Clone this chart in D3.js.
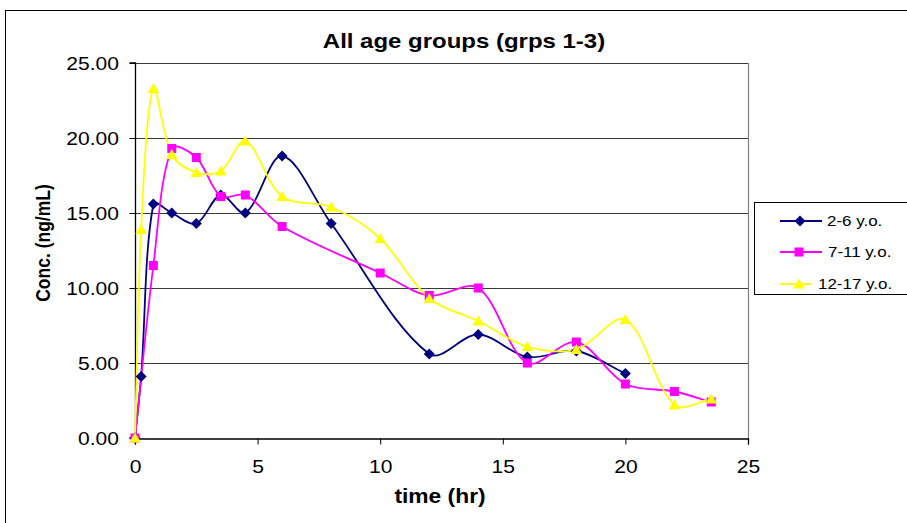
<!DOCTYPE html>
<html>
<head>
<meta charset="utf-8">
<script src="https://cdn.jsdelivr.net/npm/d3@7"></script>
<style>
  html, body { margin: 0; padding: 0; background: #fff; }
  svg { display: block; font-family: "Liberation Sans", Arial, sans-serif; }
</style>
</head>
<body>
<svg id="chart" width="907" height="523"></svg>
<script>
// Plasma concentration vs. time, by age group
const title = "All age groups (grps 1-3)";
const xLabel = "time (hr)";
const yLabel = "Conc. (ng/mL)";

const xTicks = [0, 5, 10, 15, 20, 25];
const yTicks = [0, 5, 10, 15, 20, 25];

const seriesNames = ["2-6 y.o.", "7-11 y.o.", "12-17 y.o."];

const timesA = [0, 0.25, 0.75, 1.5, 2.5, 3.5, 4.5, 6, 8, 12, 14, 16, 18, 20];
const concA  = [0, 4.1, 15.6, 15.0, 14.3, 16.2, 15.0, 18.8, 14.3, 5.6, 6.9, 5.4, 5.8, 4.3];

const timesB = [0, 0.75, 1.5, 2.5, 3.5, 4.5, 6, 10, 12, 14, 16, 18, 20, 22, 23.5];
const concB  = [0, 11.5, 19.3, 18.7, 16.1, 16.2, 14.1, 11.0, 9.5, 10.0, 5.0, 6.4, 3.6, 3.1, 2.4];

const timesC = [0, 0.25, 0.75, 1.5, 2.5, 3.5, 4.5, 6, 8, 10, 12, 14, 16, 18, 20, 22, 23.5];
const concC  = [0, 13.9, 23.3, 18.9, 17.7, 17.8, 19.8, 16.1, 15.4, 13.3, 9.3, 7.8, 6.1, 5.9, 7.9, 2.2, 2.6];

// marker outlines (pixel units, centred on the point)
const diamondShape = "M0,-5.5L5.5,0L0,5.5L-5.5,0Z";
const squareShape = "M-4.5,-4.5H4.5V4.5H-4.5Z";
const triangleShape = "M0,-5.5L5.8,4.5H-5.8Z";

const series = [
  { name: seriesNames[0], color: "#000080", shape: diamondShape,
    points: timesA.map((t, i) => [t, concA[i]]) },
  { name: seriesNames[1], color: "#FF00FF", shape: squareShape,
    points: timesB.map((t, i) => [t, concB[i]]) },
  { name: seriesNames[2], color: "#FFFF00", shape: triangleShape,
    points: timesC.map((t, i) => [t, concC[i]]) }
];

const SX = 1.17; // horizontal text stretch used throughout the chart
const svg = d3.select("#chart");
const plot = { left: 135, right: 748, top: 63, bottom: 438 };

const x = d3.scaleLinear().domain([0, 25]).range([plot.left, plot.right]);
const y = d3.scaleLinear().domain([0, 25]).range([plot.bottom, plot.top]);

// Smoothed curve: cubic Bézier segments whose tangents are weighted by
// neighbouring segment lengths (keeps short segments from overshooting).
function SmoothCurve(context) { this._context = context; }
SmoothCurve.prototype = {
  areaStart() { this._line = 0; },
  areaEnd() { this._line = NaN; },
  lineStart() { this._pts = []; },
  point(px, py) { this._pts.push([+px, +py]); },
  lineEnd() {
    const p = this._pts, n = p.length, c = this._context;
    if (!n) return;
    c.moveTo(p[0][0], p[0][1]);
    const dist = (a, b) => Math.hypot(b[0] - a[0], b[1] - a[1]);
    for (let i = 0; i < n - 1; i++) {
      const p0 = p[Math.max(i - 1, 0)], p1 = p[i], p2 = p[i + 1], p3 = p[Math.min(i + 2, n - 1)];
      const d01 = dist(p0, p1), d12 = dist(p1, p2), d23 = dist(p2, p3);
      const f1 = (d01 + d12) > 0 ? d12 / (d01 + d12) / 3 : 0;
      const f2 = (d12 + d23) > 0 ? d12 / (d12 + d23) / 3 : 0;
      const c1x = p1[0] + (p2[0] - p0[0]) * f1, c1y = p1[1] + (p2[1] - p0[1]) * f1;
      const c2x = p2[0] - (p3[0] - p1[0]) * f2, c2y = p2[1] - (p3[1] - p1[1]) * f2;
      c.bezierCurveTo(c1x, c1y, c2x, c2y, p2[0], p2[1]);
    }
  }
};
const curveSmooth = ctx => new SmoothCurve(ctx);

// outer chart frame
svg.append("rect")
  .attr("x", 5.5).attr("y", 10.5)
  .attr("width", 920).attr("height", 530)
  .attr("fill", "none").attr("stroke", "#000").attr("stroke-width", 1);

// horizontal gridlines
svg.append("g")
  .selectAll("line")
  .data(yTicks.filter(v => v > 0))
  .join("line")
  .attr("x1", plot.left).attr("x2", plot.right)
  .attr("y1", d => Math.round(y(d)) + 0.5).attr("y2", d => Math.round(y(d)) + 0.5)
  .attr("stroke", "#3a3a3a").attr("stroke-width", 1);

// right border of plot area
svg.append("line")
  .attr("x1", plot.right + 0.5).attr("x2", plot.right + 0.5)
  .attr("y1", plot.top).attr("y2", plot.bottom)
  .attr("stroke", "#808080").attr("stroke-width", 1.2);

// axes
const xAxis = d3.axisBottom(x).tickValues(xTicks).tickSize(6).tickFormat(d3.format("d"));
const yAxis = d3.axisLeft(y).tickValues(yTicks).tickSize(6).tickFormat(d3.format(".2f"));

const gx = svg.append("g").attr("transform", `translate(0,${plot.bottom + 0.5})`).call(xAxis);
const gy = svg.append("g").attr("transform", `translate(${plot.left + 0.5},0)`).call(yAxis);
[gx, gy].forEach(g => {
  g.select(".domain").attr("stroke", "#000").attr("stroke-width", 1.3);
  g.selectAll(".tick line").attr("stroke", "#000").attr("stroke-width", 1);
  g.selectAll(".tick text")
    .attr("fill", "#000")
    .style("font-family", "'Liberation Sans', Arial, sans-serif")
    .style("font-size", "18px");
});
gy.select(".domain").attr("d", `M-6,${plot.top}H0V${plot.bottom}H-6`);
gy.selectAll(".tick text")
  .attr("x", null).attr("dy", "0.34em")
  .attr("transform", `translate(-16.5,0) scale(${SX},1)`);
gx.selectAll(".tick text")
  .attr("y", null).attr("dy", null)
  .attr("transform", `translate(0,34.5) scale(${SX},1)`);

// series lines and markers
const line = d3.line()
  .x(d => x(d[0])).y(d => y(d[1]))
  .curve(curveSmooth);

series.forEach(s => {
  svg.append("path")
    .datum(s.points)
    .attr("d", line)
    .attr("fill", "none")
    .attr("stroke", s.color)
    .attr("stroke-width", 1.8);
});

series.forEach(s => {
  svg.append("g")
    .selectAll("path")
    .data(s.points)
    .join("path")
    .attr("transform", d => `translate(${x(d[0])},${y(d[1])})`)
    .attr("d", s.shape)
    .attr("fill", s.color);
});

// title and axis titles
svg.append("text")
  .attr("transform", `translate(464,47.5) scale(${SX},1)`)
  .attr("text-anchor", "middle")
  .style("font-size", "20.5px").style("font-weight", "bold")
  .text(title);

svg.append("text")
  .attr("transform", `translate(440,503) scale(${SX},1)`)
  .attr("text-anchor", "middle")
  .style("font-size", "19.5px").style("font-weight", "bold")
  .text(xLabel);

svg.append("text")
  .attr("transform", `translate(50,243) rotate(-90) scale(1,${SX})`)
  .attr("text-anchor", "middle")
  .style("font-size", "17.5px").style("font-weight", "bold")
  .text(yLabel);

// legend
const legend = svg.append("g");
legend.append("rect")
  .attr("x", 754.5).attr("y", 202.5)
  .attr("width", 160).attr("height", 92)
  .attr("fill", "#fff").attr("stroke", "#000").attr("stroke-width", 1);

const legendRows = [
  { y: 221, x1: 780, x2: 822, mx: 800, tx: 827 },
  { y: 252, x1: 780, x2: 822, mx: 799, tx: 828 },
  { y: 284, x1: 780, x2: 812, mx: 799, tx: 818 }
];
series.forEach((s, i) => {
  const r = legendRows[i];
  const g = legend.append("g").attr("transform", `translate(0,${r.y})`);
  g.append("line")
    .attr("x1", r.x1).attr("x2", r.x2).attr("y1", 0).attr("y2", 0)
    .attr("stroke", s.color).attr("stroke-width", 1.8);
  g.append("path")
    .attr("transform", `translate(${r.mx},0)`)
    .attr("d", s.shape)
    .attr("fill", s.color);
  g.append("text")
    .attr("transform", `translate(${r.tx},5) scale(${SX},1)`)
    .style("font-size", "14.5px")
    .text(s.name);
});
</script>
</body>
</html>
